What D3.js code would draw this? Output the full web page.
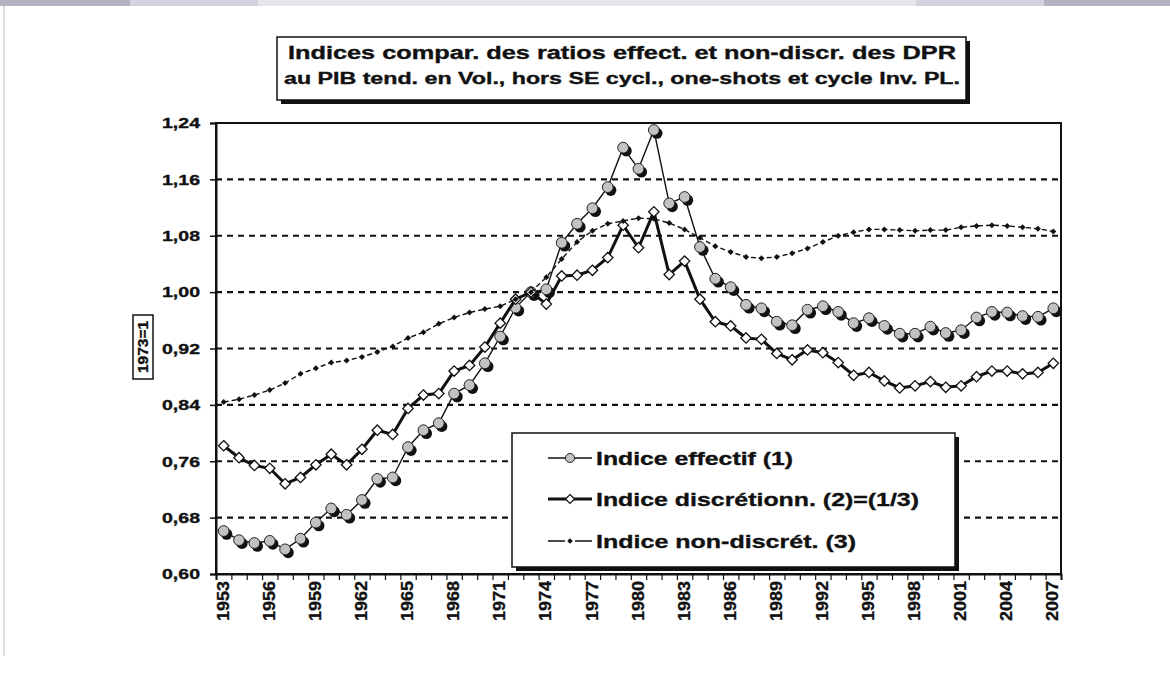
<!DOCTYPE html>
<html>
<head>
<meta charset="utf-8">
<script src="https://cdn.jsdelivr.net/npm/d3@7"></script>
<style>
  html, body { margin: 0; padding: 0; background: #fff; }
  svg { display: block; font-family: "Liberation Sans", Arial, sans-serif; font-weight: bold; }
  svg text { stroke: #111; stroke-width: 0.35px; }
</style>
</head>
<body>
<svg id="chart" width="1170" height="678"></svg>
<script>
// Années (catégories de l'axe horizontal)
const years = [1953,1954,1955,1956,1957,1958,1959,1960,1961,1962,1963,1964,1965,1966,1967,1968,1969,1970,
  1971,1972,1973,1974,1975,1976,1977,1978,1979,1980,1981,1982,1983,1984,1985,1986,1987,1988,1989,1990,
  1991,1992,1993,1994,1995,1996,1997,1998,1999,2000,2001,2002,2003,2004,2005,2006,2007];

// (1) Indice effectif
const indiceEffectif = [0.661,0.648,0.644,0.647,0.635,0.650,0.673,0.693,0.684,0.705,0.735,0.737,0.780,0.804,
  0.814,0.856,0.868,0.899,0.937,0.978,1.000,1.004,1.070,1.097,1.119,1.149,1.205,1.175,1.230,1.126,1.135,
  1.064,1.019,1.007,0.982,0.977,0.958,0.953,0.975,0.980,0.972,0.956,0.963,0.952,0.941,0.941,0.951,0.942,
  0.946,0.964,0.972,0.971,0.966,0.965,0.977];

// (2) Indice discrétionnaire = (1)/(3)
const indiceDiscretionnaire = [0.782,0.765,0.754,0.750,0.728,0.737,0.755,0.770,0.755,0.777,0.804,0.798,0.835,0.854,
  0.856,0.888,0.896,0.922,0.956,0.990,1.000,0.983,1.023,1.024,1.031,1.049,1.095,1.063,1.114,1.025,1.044,
  0.990,0.958,0.952,0.935,0.933,0.913,0.904,0.918,0.914,0.900,0.882,0.886,0.874,0.864,0.867,0.873,0.865,
  0.867,0.880,0.888,0.888,0.884,0.886,0.899];

// (3) Indice non-discrétionnaire
const indiceNonDiscret = [0.844,0.848,0.854,0.861,0.871,0.884,0.892,0.900,0.903,0.908,0.915,0.923,0.935,0.943,
  0.955,0.964,0.971,0.976,0.980,0.990,1.000,1.021,1.047,1.071,1.087,1.097,1.101,1.105,1.104,1.098,1.089,
  1.077,1.065,1.057,1.050,1.048,1.050,1.055,1.062,1.071,1.080,1.085,1.089,1.089,1.088,1.087,1.088,1.088,
  1.092,1.094,1.095,1.094,1.092,1.090,1.086];

const yTicks = [0.60,0.68,0.76,0.84,0.92,1.00,1.08,1.16,1.24];
const xLabelYears = [1953,1956,1959,1962,1965,1968,1971,1974,1977,1980,1983,1986,1989,1992,1995,1998,2001,2004,2007];

const titleLines = [
  "Indices compar. des ratios effect. et non-discr. des DPR",
  "au PIB tend. en Vol., hors SE cycl., one-shots et cycle Inv. PL."
];
const legendLabels = ["Indice effectif (1)", "Indice discrétionn. (2)=(1/3)", "Indice non-discrét. (3)"];
const yAxisNote = "1973=1";

const svg = d3.select("#chart");

// Cadre de page : bandeau supérieur et filet gauche
const bandSegments = [
  {x0: 0, x1: 130, c: "#b3b3c3"}, {x0: 130, x1: 258, c: "#d3d3dd"},
  {x0: 258, x1: 916, c: "#e5e5ec"}, {x0: 916, x1: 1044, c: "#d3d3dd"},
  {x0: 1044, x1: 1170, c: "#b3b3c3"}
];
svg.selectAll("rect.band").data(bandSegments).join("rect")
  .attr("x", d => d.x0).attr("y", 0).attr("width", d => d.x1 - d.x0).attr("height", 6)
  .attr("fill", d => d.c);
svg.append("line").attr("x1", 4).attr("x2", 4).attr("y1", 6).attr("y2", 656)
  .attr("stroke", "#c8c8d0").attr("stroke-width", 1.2);

// Zone de tracé
const plot = {left: 216, right: 1061, top: 123, bottom: 574};

const x = d3.scaleBand().domain(years).range([plot.left, plot.right]).padding(0);
const xc = yr => x(yr) + x.bandwidth() / 2;
const xEdge = d3.scaleLinear().domain([0, years.length]).range([plot.left, plot.right]);
const y = d3.scaleLinear().domain([0.60, 1.24]).range([plot.bottom, plot.top]);
const fmt = v => d3.format(".2f")(v).replace(".", ",");

// Quadrillage horizontal en pointillés
svg.append("g")
  .selectAll("line").data(yTicks.filter(v => v > 0.60)).join("line")
  .attr("x1", plot.left).attr("x2", plot.right)
  .attr("y1", d => y(d)).attr("y2", d => y(d))
  .attr("stroke", "#111").attr("stroke-width", 2.2).attr("stroke-dasharray", "6,5");

// Bordure de la zone de tracé
svg.append("rect")
  .attr("x", plot.left).attr("y", plot.top)
  .attr("width", plot.right - plot.left).attr("height", plot.bottom - plot.top)
  .attr("fill", "none").attr("stroke", "#111").attr("stroke-width", 2);

// Axe vertical
const yAxis = svg.append("g").attr("transform", `translate(${plot.left},0)`)
  .call(d3.axisLeft(y).tickValues(yTicks).tickFormat(fmt).tickSize(6).tickPadding(10));
yAxis.select(".domain").attr("stroke", "#111").attr("stroke-width", 2);
yAxis.selectAll(".tick line").attr("stroke", "#111").attr("stroke-width", 1.5);
yAxis.selectAll(".tick text")
  .attr("font-size", 15).attr("font-weight", "bold").attr("fill", "#111")
  .attr("font-family", "Liberation Sans, Arial, sans-serif")
  .attr("textLength", 38).attr("lengthAdjust", "spacingAndGlyphs");

// Axe horizontal : graduations entre les catégories
const xAxis = svg.append("g").attr("transform", `translate(0,${plot.bottom})`)
  .call(d3.axisBottom(xEdge).tickValues(d3.range(0, years.length + 1)).tickFormat("").tickSize(6));
xAxis.select(".domain").attr("stroke", "#111").attr("stroke-width", 2);
xAxis.selectAll(".tick line").attr("stroke", "#111").attr("stroke-width", 1.2);

// Étiquettes des années, verticales
svg.append("g").selectAll("text").data(xLabelYears).join("text")
  .attr("transform", d => `translate(${xc(d) - 1},${plot.bottom + 7}) rotate(-90)`)
  .attr("text-anchor", "end").attr("dy", "0.36em")
  .attr("font-size", 17).attr("fill", "#111")
  .attr("textLength", 40).attr("lengthAdjust", "spacingAndGlyphs")
  .text(d => d);

// Encadré « 1973=1 »
const note = svg.append("g");
note.append("rect").attr("x", 133).attr("y", 315).attr("width", 20).attr("height", 64)
  .attr("fill", "#fff").attr("stroke", "#111").attr("stroke-width", 1.5);
note.append("text")
  .attr("transform", "translate(143,347) rotate(-90)")
  .attr("text-anchor", "middle").attr("dy", "0.36em")
  .attr("font-size", 14).attr("fill", "#111")
  .attr("textLength", 52).attr("lengthAdjust", "spacingAndGlyphs")
  .text(yAxisNote);

// Séries
const series = [
  {name: legendLabels[0], values: indiceEffectif},
  {name: legendLabels[1], values: indiceDiscretionnaire},
  {name: legendLabels[2], values: indiceNonDiscret}
];
const line = d3.line().x((d, i) => xc(years[i])).y(d => y(d));
const diamond = (cx, cy, r) => `M${cx},${cy - r}L${cx + r},${cy}L${cx},${cy + r}L${cx - r},${cy}Z`;

// (1) effectif : trait fin, billes grises ombrées
const g1 = svg.append("g");
g1.append("path").datum(series[0].values).attr("d", line)
  .attr("fill", "none").attr("stroke", "#111").attr("stroke-width", 1.4);
g1.selectAll("circle.shadow").data(series[0].values).join("circle")
  .attr("cx", (d, i) => xc(years[i]) + 3).attr("cy", d => y(d) + 3.2).attr("r", 5.6)
  .attr("fill", "#111");
g1.selectAll("circle.dot").data(series[0].values).join("circle")
  .attr("cx", (d, i) => xc(years[i])).attr("cy", d => y(d)).attr("r", 5.4)
  .attr("fill", "#c2c2c2").attr("stroke", "#222").attr("stroke-width", 1);

// (2) discrétionnaire : trait épais, losanges blancs
const g2 = svg.append("g");
g2.append("path").datum(series[1].values).attr("d", line)
  .attr("fill", "none").attr("stroke", "#111").attr("stroke-width", 3);
g2.selectAll("path.mk").data(series[1].values).join("path")
  .attr("d", (d, i) => diamond(xc(years[i]), y(d), 5.2))
  .attr("fill", "#fff").attr("stroke", "#111").attr("stroke-width", 1.3);

// (3) non-discrétionnaire : tirets, petits losanges noirs
const g3 = svg.append("g");
g3.append("path").datum(series[2].values).attr("d", line)
  .attr("fill", "none").attr("stroke", "#111").attr("stroke-width", 1.4).attr("stroke-dasharray", "5,3");
g3.selectAll("path.mk").data(series[2].values).join("path")
  .attr("d", (d, i) => diamond(xc(years[i]), y(d), 3))
  .attr("fill", "#111");

// Légende
const lg = svg.append("g");
lg.append("rect").attr("x", 516).attr("y", 437).attr("width", 443).attr("height", 134).attr("fill", "#111");
lg.append("rect").attr("x", 512).attr("y", 433).attr("width", 443).attr("height", 134)
  .attr("fill", "#fff").attr("stroke", "#111").attr("stroke-width", 1.5);
const rows = [458, 499, 541];
const textLens = [197, 323, 260];
// symbole 1
lg.append("line").attr("x1", 548).attr("x2", 592).attr("y1", rows[0]).attr("y2", rows[0])
  .attr("stroke", "#111").attr("stroke-width", 1.4);
lg.append("circle").attr("cx", 570).attr("cy", rows[0]).attr("r", 4.5)
  .attr("fill", "#c4c4c4").attr("stroke", "#222").attr("stroke-width", 1);
// symbole 2
lg.append("line").attr("x1", 548).attr("x2", 592).attr("y1", rows[1]).attr("y2", rows[1])
  .attr("stroke", "#111").attr("stroke-width", 3);
lg.append("path").attr("d", diamond(570, rows[1], 4.5))
  .attr("fill", "#fff").attr("stroke", "#111").attr("stroke-width", 1.2);
// symbole 3
lg.append("line").attr("x1", 548).attr("x2", 592).attr("y1", rows[2]).attr("y2", rows[2])
  .attr("stroke", "#111").attr("stroke-width", 1.4).attr("stroke-dasharray", "17,10");
lg.append("path").attr("d", diamond(570, rows[2], 2.8)).attr("fill", "#111");
lg.selectAll("text").data(legendLabels).join("text")
  .attr("x", 596).attr("y", (d, i) => rows[i]).attr("dy", "0.36em")
  .attr("font-size", 19).attr("fill", "#111")
  .attr("textLength", (d, i) => textLens[i]).attr("lengthAdjust", "spacingAndGlyphs")
  .text(d => d);

// Titre encadré
const tg = svg.append("g");
tg.append("rect").attr("x", 281).attr("y", 41).attr("width", 689).attr("height", 63).attr("fill", "#111");
tg.append("rect").attr("x", 277).attr("y", 37).attr("width", 689).attr("height", 63)
  .attr("fill", "#fff").attr("stroke", "#111").attr("stroke-width", 1.5);
tg.append("text").attr("x", 622).attr("y", 53).attr("dy", "0.36em").attr("text-anchor", "middle")
  .attr("font-size", 17.5).attr("fill", "#111")
  .attr("textLength", 668).attr("lengthAdjust", "spacingAndGlyphs").text(titleLines[0]);
tg.append("text").attr("x", 622).attr("y", 78).attr("dy", "0.36em").attr("text-anchor", "middle")
  .attr("font-size", 16).attr("fill", "#111")
  .attr("textLength", 676).attr("lengthAdjust", "spacingAndGlyphs").text(titleLines[1]);
</script>
</body>
</html>
